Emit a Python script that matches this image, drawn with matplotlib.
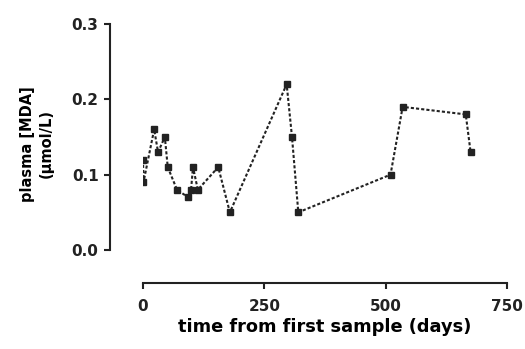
import matplotlib.pyplot as plt

# days since first sample and plasma MDA (umol/L)
days = [0, 1, 23, 31, 45, 51, 70, 93, 99, 103, 113, 155, 179,
        296, 307, 320, 510, 535, 665, 675]
mda = [0.12, 0.09, 0.16, 0.13, 0.15, 0.11, 0.08, 0.07, 0.08, 0.11, 0.08, 0.11, 0.05,
       0.22, 0.15, 0.05, 0.10, 0.19, 0.18, 0.13]

x_ticks = [0, 250, 500, 750]
y_ticks = [0.0, 0.1, 0.2, 0.3]

plt.rcParams['font.family'] = ['DejaVu Sans']
plt.rcParams['font.weight'] = 'bold'

fig = plt.figure(figsize=(5.25, 3.49), dpi=100)
ax = fig.add_axes([143 / 525, 1 - 250 / 349, 364 / 525, 226 / 349])

ax.plot(days, mda, color='#222222', linestyle=(0, (1.5, 1)), linewidth=1.5,
        marker='s', markersize=4, markerfacecolor='#222222', markeredgecolor='#222222')

ax.set_xlim(0, 750)
ax.set_ylim(0, 0.3)
ax.set_xticks(x_ticks)
ax.set_yticks(y_ticks)
ax.set_xticklabels([str(t) for t in x_ticks])
ax.set_yticklabels([f'{t:.1f}' for t in y_ticks])

for side in ('top', 'right'):
    ax.spines[side].set_visible(False)
ax.spines['left'].set_position(('outward', 24))
ax.spines['bottom'].set_position(('outward', 24))
for side in ('left', 'bottom'):
    ax.spines[side].set_linewidth(1.5)
    ax.spines[side].set_color('#222222')

ax.tick_params(axis='both', direction='out', length=4, width=1.5,
               labelsize=11, colors='#222222')
ax.tick_params(axis='x', pad=7.5)
ax.tick_params(axis='y', pad=4)

ax.set_xlabel('time from first sample (days)', fontsize=12.8, fontweight='bold', labelpad=3)
ax.set_ylabel('plasma [MDA]\n(\u03bcmol/L)', fontsize=10.5, fontweight='bold',
              linespacing=1.3)
ax.yaxis.set_label_coords(-0.245, 0.47)

fig.savefig('out.png', dpi=100)
